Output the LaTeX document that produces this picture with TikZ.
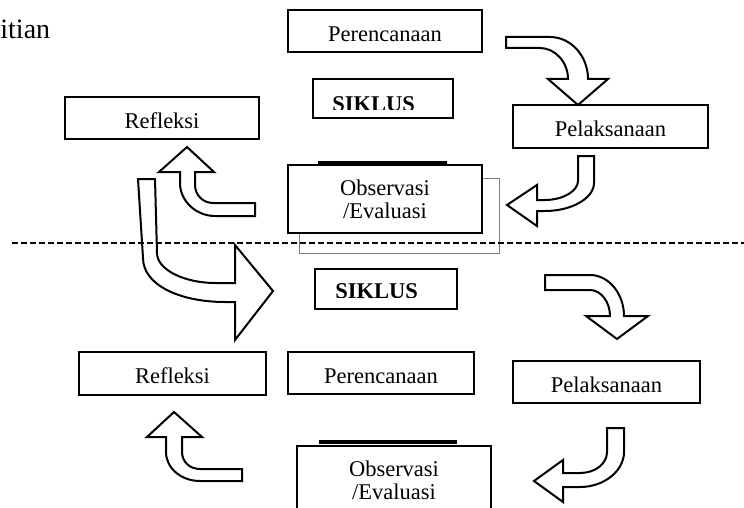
\documentclass[tikz,border=0pt]{standalone}
\usepackage{fontspec}
\setmainfont{Liberation Serif}
\tikzset{
  box/.style={draw, fill=white, line width=1pt, inner sep=0pt, minimum width=97pt, minimum height=21pt, text height=10.3pt, text depth=0pt},
  obsbox/.style={draw, fill=white, line width=1pt, inner sep=0pt, minimum width=97pt, minimum height=34pt, align=center},
  siklus/.style={anchor=base west, inner sep=0pt, font=\fontsize{11.25}{11.5}\selectfont\bfseries},
  blockarrow/.style={draw, fill=white, line width=1pt, line join=miter},
  rule/.style={line width=2pt},
  cut/.style={line width=0.7pt, dash pattern=on 3pt off 1.5pt}
}

\begin{document}
\begin{tikzpicture}[x=0.5pt, y=-0.5pt, font=\fontsize{11.25}{11.5}\selectfont]
    \useasboundingbox (0,0) rectangle (744,508);

    \node(TT) [anchor=base west, inner sep=0pt, font=\fontsize{14}{16}\selectfont] at (0,39) {itian};

    \draw[gray, line width=0.5pt] (299,178) rectangle (499,253);
    \node(PR1) [box] at (385,31) {Perencanaan};
    \node(SK1) [box, minimum width=70pt, minimum height=19.5pt] at (383,98.5) {};
    \begin{scope}
      \clip (313,79) rectangle (453,110);
      \node(SL1) [siklus] at (332,112) {SIKLUS};
    \end{scope}
    \node(RF1) [box] at (162,118) {Refleksi};
    \node(PL1) [box, minimum width=97.5pt, minimum height=21.5pt] at (610.5,126.5) {Pelaksanaan};
    \draw[rule] (318,162.5) -- (447,162.5);
    \node(OB1) [obsbox] at (385,199) {Observasi\\/Evaluasi};

    \draw[blockarrow] (506,37) -- (550,37) .. controls (571,37) and (588,56) .. (588,79) -- (608,79) -- (578,105) -- (548,79) -- (568,79) .. controls (568,62) and (555,48) .. (540,48) -- (506,48) -- cycle;
    \draw[blockarrow] (578,156) -- (594,156) -- (594,183) .. controls (594,198) and (572,211) .. (545,211) -- (537,211) -- (537,226) -- (507,205) -- (537,185) -- (537,200) -- (545,200) .. controls (563,200) and (578,191) .. (578,181) -- cycle;
    \draw[blockarrow] (187,147) -- (214,172) -- (195,172) -- (195,185) .. controls (195,195) and (203,203) .. (213,203) -- (255,203) -- (255,216) -- (215,216) .. controls (196,216) and (180,201) .. (180,183) -- (180,172) -- (159,172) -- cycle;
    \draw[blockarrow] (138,179) -- (155,179) -- (157,253) .. controls (157,270) and (185,283) .. (215,283) -- (235,283) -- (235,245) -- (273,291) -- (235,340) -- (235,302) -- (225,302) .. controls (180,302) and (143,285) .. (143,258) -- cycle;

    \draw[cut] (12,243) -- (744,243);

    \node(SK2) [box, minimum width=71pt, minimum height=20pt] at (386,289) {};
    \begin{scope}
      \clip (315,269) rectangle (457,297.5);
      \node(SL2) [siklus] at (335,298) {SIKLUS};
    \end{scope}
    \node(PR2) [box, minimum width=93pt] at (381,373) {Perencanaan};
    \node(RF2) [box, minimum width=93.5pt, minimum height=21.5pt] at (172.5,373.5) {Refleksi};
    \node(PL2) [box, minimum width=93.5pt] at (606.5,382) {Pelaksanaan};
    \draw[rule] (319,442) -- (457,442);
    \node(OB2) [obsbox] at (394,480) {Observasi\\/Evaluasi};

    \draw[blockarrow] (545,275) -- (590,275) .. controls (609,275) and (624,294) .. (624,316) -- (648,316) -- (617,339) -- (586,316) -- (610,316) .. controls (610,302) and (601,290) .. (590,290) -- (545,290) -- cycle;
    \draw[blockarrow] (607,428) -- (624,428) -- (624,452) .. controls (624,471) and (604,487) .. (580,487) -- (563,487) -- (563,502) -- (534,481) -- (563,460) -- (563,473) -- (580,473) .. controls (595,473) and (607,464) .. (607,452) -- cycle;
    \draw[blockarrow] (174,412) -- (202,437) -- (182,437) -- (182,452) .. controls (182,462) and (190,469) .. (200,469) -- (242,469) -- (242,481) -- (200,481) .. controls (181,481) and (166,468) .. (166,452) -- (166,437) -- (147,437) -- cycle;
\end{tikzpicture}
\end{document}
